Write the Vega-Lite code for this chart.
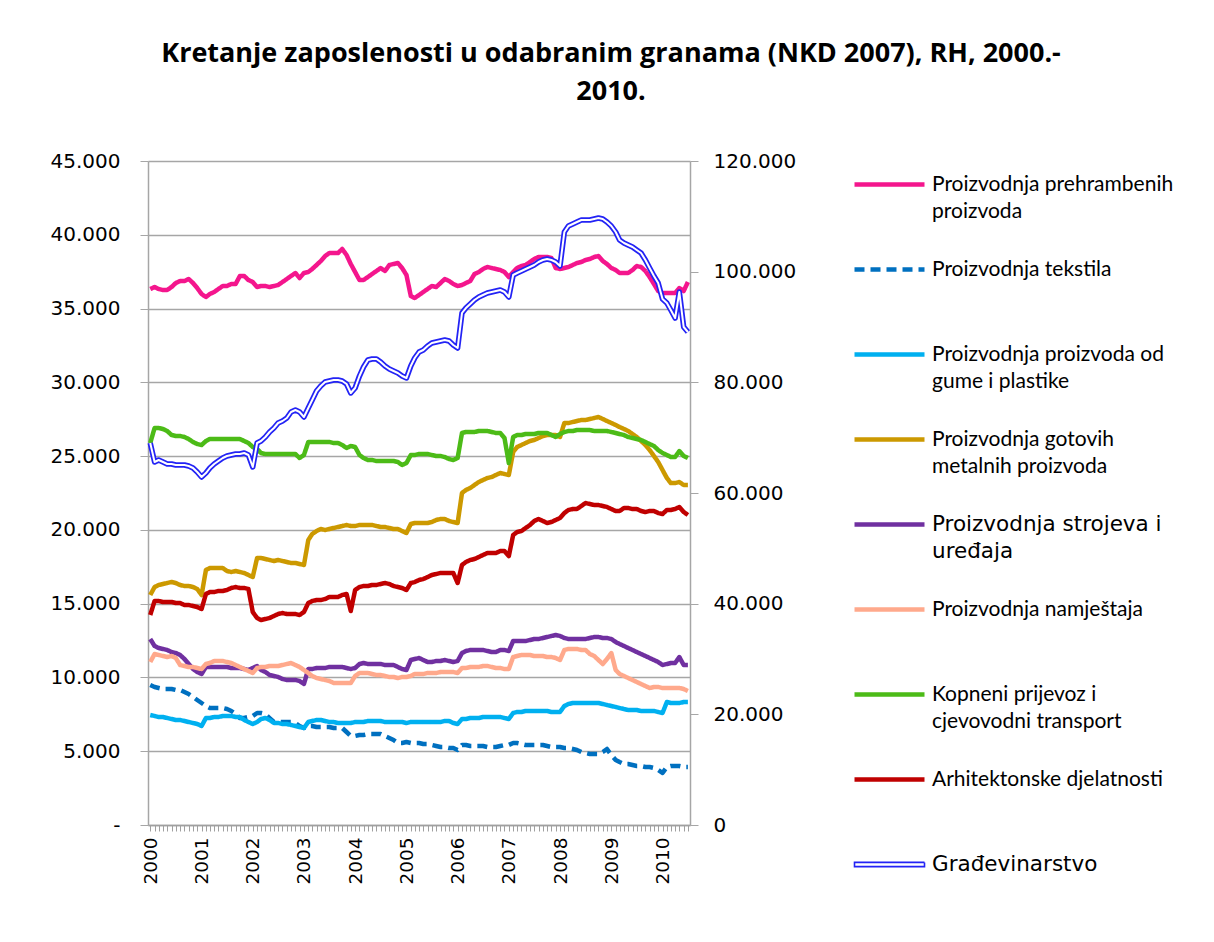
{
  "$schema": "https://vega.github.io/schema/vega-lite/v6.json",
  "width": 542,
  "height": 664,
  "autosize": {"type": "none"},
  "padding": {"left": 148, "top": 161, "right": 524, "bottom": 117},
  "background": "white",
  "title": {
    "text": ["Kretanje zaposlenosti u odabranim  granama (NKD 2007), RH, 2000.-", "2010."],
    "anchor": "middle",
    "frame": "group",
    "dx": 192,
    "offset": 45,
    "font": "Open Sans",
    "fontSize": 27,
    "fontWeight": "bold",
    "lineHeight": 38,
    "color": "black"
  },
  "data": {
    "values": [
      {"d":"2000-01","hrana":36325,"tekstil":9488,"guma":7455,"metal":15587,"strojevi":12605,"namjestaj":11047,"prijevoz":25888,"arhitekt":14232,"gradj":69035},
      {"d":"2000-02","hrana":36460,"tekstil":9352,"guma":7387,"metal":16129,"strojevi":12131,"namjestaj":11589,"prijevoz":26905,"arhitekt":15180,"gradj":65601},
      {"d":"2000-03","hrana":36325,"tekstil":9285,"guma":7319,"metal":16265,"strojevi":11995,"namjestaj":11521,"prijevoz":26905,"arhitekt":15180,"gradj":65963},
      {"d":"2000-04","hrana":36257,"tekstil":9217,"guma":7319,"metal":16333,"strojevi":11928,"namjestaj":11453,"prijevoz":26837,"arhitekt":15113,"gradj":65601},
      {"d":"2000-05","hrana":36257,"tekstil":9217,"guma":7251,"metal":16400,"strojevi":11860,"namjestaj":11385,"prijevoz":26701,"arhitekt":15113,"gradj":65240},
      {"d":"2000-06","hrana":36460,"tekstil":9217,"guma":7184,"metal":16468,"strojevi":11724,"namjestaj":11453,"prijevoz":26430,"arhitekt":15113,"gradj":65240},
      {"d":"2000-07","hrana":36731,"tekstil":9149,"guma":7116,"metal":16400,"strojevi":11656,"namjestaj":11318,"prijevoz":26363,"arhitekt":15045,"gradj":65059},
      {"d":"2000-08","hrana":36867,"tekstil":9149,"guma":7116,"metal":16265,"strojevi":11521,"namjestaj":10843,"prijevoz":26363,"arhitekt":15045,"gradj":65059},
      {"d":"2000-09","hrana":36867,"tekstil":9013,"guma":7048,"metal":16197,"strojevi":11250,"namjestaj":10775,"prijevoz":26295,"arhitekt":14909,"gradj":65059},
      {"d":"2000-10","hrana":37002,"tekstil":8878,"guma":6980,"metal":16197,"strojevi":10911,"namjestaj":10708,"prijevoz":26159,"arhitekt":14909,"gradj":64878},
      {"d":"2000-11","hrana":36731,"tekstil":8675,"guma":6913,"metal":16129,"strojevi":10572,"namjestaj":10708,"prijevoz":25956,"arhitekt":14842,"gradj":64517},
      {"d":"2000-12","hrana":36392,"tekstil":8471,"guma":6845,"metal":15994,"strojevi":10369,"namjestaj":10640,"prijevoz":25820,"arhitekt":14774,"gradj":63794},
      {"d":"2001-01","hrana":35986,"tekstil":8268,"guma":6709,"metal":15587,"strojevi":10233,"namjestaj":10572,"prijevoz":25753,"arhitekt":14638,"gradj":62891},
      {"d":"2001-02","hrana":35783,"tekstil":8065,"guma":7251,"metal":17281,"strojevi":10708,"namjestaj":10911,"prijevoz":26024,"arhitekt":15655,"gradj":63613},
      {"d":"2001-03","hrana":35986,"tekstil":7929,"guma":7251,"metal":17417,"strojevi":10708,"namjestaj":10979,"prijevoz":26159,"arhitekt":15790,"gradj":64517},
      {"d":"2001-04","hrana":36121,"tekstil":7929,"guma":7319,"metal":17417,"strojevi":10708,"namjestaj":11114,"prijevoz":26159,"arhitekt":15790,"gradj":65240},
      {"d":"2001-05","hrana":36325,"tekstil":7929,"guma":7319,"metal":17417,"strojevi":10708,"namjestaj":11114,"prijevoz":26159,"arhitekt":15858,"gradj":65782},
      {"d":"2001-06","hrana":36528,"tekstil":7929,"guma":7387,"metal":17417,"strojevi":10708,"namjestaj":11114,"prijevoz":26159,"arhitekt":15858,"gradj":66324},
      {"d":"2001-07","hrana":36528,"tekstil":7861,"guma":7387,"metal":17214,"strojevi":10708,"namjestaj":11047,"prijevoz":26159,"arhitekt":15926,"gradj":66686},
      {"d":"2001-08","hrana":36664,"tekstil":7726,"guma":7387,"metal":17146,"strojevi":10640,"namjestaj":10979,"prijevoz":26159,"arhitekt":16061,"gradj":66866},
      {"d":"2001-09","hrana":36664,"tekstil":7522,"guma":7319,"metal":17214,"strojevi":10640,"namjestaj":10843,"prijevoz":26159,"arhitekt":16129,"gradj":67047},
      {"d":"2001-10","hrana":37206,"tekstil":7251,"guma":7319,"metal":17146,"strojevi":10640,"namjestaj":10708,"prijevoz":26159,"arhitekt":16061,"gradj":67047},
      {"d":"2001-11","hrana":37206,"tekstil":7251,"guma":7116,"metal":17078,"strojevi":10572,"namjestaj":10572,"prijevoz":26024,"arhitekt":16061,"gradj":67228},
      {"d":"2001-12","hrana":36935,"tekstil":7319,"guma":6980,"metal":16943,"strojevi":10504,"namjestaj":10437,"prijevoz":25888,"arhitekt":15994,"gradj":66866},
      {"d":"2002-01","hrana":36799,"tekstil":7387,"guma":6845,"metal":16807,"strojevi":10640,"namjestaj":10301,"prijevoz":25617,"arhitekt":14435,"gradj":64698},
      {"d":"2002-02","hrana":36460,"tekstil":7590,"guma":6980,"metal":18095,"strojevi":10775,"namjestaj":10640,"prijevoz":25482,"arhitekt":14028,"gradj":69035},
      {"d":"2002-03","hrana":36528,"tekstil":7590,"guma":7184,"metal":18095,"strojevi":10504,"namjestaj":10708,"prijevoz":25210,"arhitekt":13893,"gradj":69396},
      {"d":"2002-04","hrana":36528,"tekstil":7522,"guma":7251,"metal":18027,"strojevi":10369,"namjestaj":10708,"prijevoz":25143,"arhitekt":13961,"gradj":70119},
      {"d":"2002-05","hrana":36460,"tekstil":7251,"guma":7116,"metal":17959,"strojevi":10166,"namjestaj":10775,"prijevoz":25143,"arhitekt":14028,"gradj":71023},
      {"d":"2002-06","hrana":36528,"tekstil":6980,"guma":6913,"metal":17891,"strojevi":10098,"namjestaj":10775,"prijevoz":25143,"arhitekt":14164,"gradj":71746},
      {"d":"2002-07","hrana":36596,"tekstil":6980,"guma":6913,"metal":17959,"strojevi":10030,"namjestaj":10775,"prijevoz":25143,"arhitekt":14299,"gradj":72649},
      {"d":"2002-08","hrana":36799,"tekstil":6980,"guma":6845,"metal":17891,"strojevi":9894,"namjestaj":10843,"prijevoz":25143,"arhitekt":14367,"gradj":73011},
      {"d":"2002-09","hrana":37002,"tekstil":6980,"guma":6845,"metal":17824,"strojevi":9827,"namjestaj":10911,"prijevoz":25143,"arhitekt":14299,"gradj":73553},
      {"d":"2002-10","hrana":37206,"tekstil":6980,"guma":6777,"metal":17756,"strojevi":9827,"namjestaj":10979,"prijevoz":25143,"arhitekt":14299,"gradj":74637},
      {"d":"2002-11","hrana":37409,"tekstil":6913,"guma":6709,"metal":17756,"strojevi":9827,"namjestaj":10843,"prijevoz":25143,"arhitekt":14299,"gradj":74999},
      {"d":"2002-12","hrana":37070,"tekstil":6709,"guma":6641,"metal":17688,"strojevi":9759,"namjestaj":10708,"prijevoz":24872,"arhitekt":14232,"gradj":74637},
      {"d":"2003-01","hrana":37409,"tekstil":6574,"guma":6574,"metal":17620,"strojevi":9556,"namjestaj":10504,"prijevoz":25075,"arhitekt":14435,"gradj":73734},
      {"d":"2003-02","hrana":37477,"tekstil":6709,"guma":6980,"metal":19314,"strojevi":10572,"namjestaj":10301,"prijevoz":25956,"arhitekt":15045,"gradj":75360},
      {"d":"2003-03","hrana":37680,"tekstil":6709,"guma":7048,"metal":19721,"strojevi":10572,"namjestaj":10098,"prijevoz":25956,"arhitekt":15180,"gradj":76806},
      {"d":"2003-04","hrana":37951,"tekstil":6641,"guma":7116,"metal":19924,"strojevi":10640,"namjestaj":9962,"prijevoz":25956,"arhitekt":15248,"gradj":78432},
      {"d":"2003-05","hrana":38222,"tekstil":6641,"guma":7116,"metal":20060,"strojevi":10640,"namjestaj":9894,"prijevoz":25956,"arhitekt":15248,"gradj":79336},
      {"d":"2003-06","hrana":38561,"tekstil":6641,"guma":7048,"metal":19992,"strojevi":10640,"namjestaj":9827,"prijevoz":25956,"arhitekt":15316,"gradj":80059},
      {"d":"2003-07","hrana":38764,"tekstil":6641,"guma":6980,"metal":20060,"strojevi":10708,"namjestaj":9759,"prijevoz":25956,"arhitekt":15452,"gradj":80240},
      {"d":"2003-08","hrana":38764,"tekstil":6574,"guma":6980,"metal":20128,"strojevi":10708,"namjestaj":9623,"prijevoz":25888,"arhitekt":15452,"gradj":80420},
      {"d":"2003-09","hrana":38764,"tekstil":6574,"guma":6913,"metal":20195,"strojevi":10708,"namjestaj":9623,"prijevoz":25888,"arhitekt":15452,"gradj":80420},
      {"d":"2003-10","hrana":39036,"tekstil":6574,"guma":6913,"metal":20263,"strojevi":10708,"namjestaj":9623,"prijevoz":25753,"arhitekt":15587,"gradj":80240},
      {"d":"2003-11","hrana":38629,"tekstil":6303,"guma":6913,"metal":20331,"strojevi":10640,"namjestaj":9623,"prijevoz":25549,"arhitekt":15655,"gradj":79698},
      {"d":"2003-12","hrana":38019,"tekstil":6032,"guma":6913,"metal":20263,"strojevi":10572,"namjestaj":9623,"prijevoz":25685,"arhitekt":14503,"gradj":78071},
      {"d":"2004-01","hrana":37477,"tekstil":6032,"guma":6980,"metal":20263,"strojevi":10640,"namjestaj":10098,"prijevoz":25617,"arhitekt":15926,"gradj":78975},
      {"d":"2004-02","hrana":36935,"tekstil":6099,"guma":6980,"metal":20331,"strojevi":10911,"namjestaj":10301,"prijevoz":25075,"arhitekt":16129,"gradj":81143},
      {"d":"2004-03","hrana":36935,"tekstil":6099,"guma":6980,"metal":20331,"strojevi":10979,"namjestaj":10301,"prijevoz":24872,"arhitekt":16197,"gradj":82770},
      {"d":"2004-04","hrana":37138,"tekstil":6167,"guma":7048,"metal":20331,"strojevi":10911,"namjestaj":10301,"prijevoz":24736,"arhitekt":16197,"gradj":84035},
      {"d":"2004-05","hrana":37341,"tekstil":6167,"guma":7048,"metal":20331,"strojevi":10911,"namjestaj":10233,"prijevoz":24736,"arhitekt":16265,"gradj":84216},
      {"d":"2004-06","hrana":37545,"tekstil":6167,"guma":7048,"metal":20263,"strojevi":10911,"namjestaj":10166,"prijevoz":24668,"arhitekt":16265,"gradj":84216},
      {"d":"2004-07","hrana":37748,"tekstil":6167,"guma":7048,"metal":20195,"strojevi":10911,"namjestaj":10166,"prijevoz":24668,"arhitekt":16333,"gradj":83673},
      {"d":"2004-08","hrana":37545,"tekstil":6032,"guma":6980,"metal":20195,"strojevi":10843,"namjestaj":10098,"prijevoz":24668,"arhitekt":16400,"gradj":82950},
      {"d":"2004-09","hrana":37951,"tekstil":5896,"guma":6980,"metal":20128,"strojevi":10843,"namjestaj":10030,"prijevoz":24668,"arhitekt":16333,"gradj":82408},
      {"d":"2004-10","hrana":38019,"tekstil":5760,"guma":6980,"metal":20060,"strojevi":10843,"namjestaj":10030,"prijevoz":24668,"arhitekt":16197,"gradj":82047},
      {"d":"2004-11","hrana":38087,"tekstil":5557,"guma":6980,"metal":20060,"strojevi":10708,"namjestaj":9962,"prijevoz":24601,"arhitekt":16129,"gradj":81685},
      {"d":"2004-12","hrana":37748,"tekstil":5557,"guma":6980,"metal":19924,"strojevi":10572,"namjestaj":10030,"prijevoz":24397,"arhitekt":16061,"gradj":81143},
      {"d":"2005-01","hrana":37274,"tekstil":5625,"guma":6913,"metal":19789,"strojevi":10504,"namjestaj":10030,"prijevoz":24533,"arhitekt":15926,"gradj":80782},
      {"d":"2005-02","hrana":35850,"tekstil":5557,"guma":6980,"metal":20399,"strojevi":11182,"namjestaj":10098,"prijevoz":25075,"arhitekt":16400,"gradj":82950},
      {"d":"2005-03","hrana":35715,"tekstil":5557,"guma":6980,"metal":20467,"strojevi":11250,"namjestaj":10233,"prijevoz":25075,"arhitekt":16468,"gradj":84396},
      {"d":"2005-04","hrana":35918,"tekstil":5557,"guma":6980,"metal":20467,"strojevi":11318,"namjestaj":10233,"prijevoz":25143,"arhitekt":16604,"gradj":85481},
      {"d":"2005-05","hrana":36121,"tekstil":5489,"guma":6980,"metal":20467,"strojevi":11182,"namjestaj":10233,"prijevoz":25143,"arhitekt":16671,"gradj":85842},
      {"d":"2005-06","hrana":36325,"tekstil":5489,"guma":6980,"metal":20467,"strojevi":11047,"namjestaj":10301,"prijevoz":25143,"arhitekt":16807,"gradj":86565},
      {"d":"2005-07","hrana":36528,"tekstil":5422,"guma":6980,"metal":20534,"strojevi":11047,"namjestaj":10301,"prijevoz":25075,"arhitekt":16943,"gradj":87107},
      {"d":"2005-08","hrana":36460,"tekstil":5354,"guma":6980,"metal":20670,"strojevi":11114,"namjestaj":10301,"prijevoz":25007,"arhitekt":17010,"gradj":87288},
      {"d":"2005-09","hrana":36731,"tekstil":5286,"guma":6980,"metal":20738,"strojevi":11114,"namjestaj":10369,"prijevoz":25007,"arhitekt":17078,"gradj":87468},
      {"d":"2005-10","hrana":37002,"tekstil":5286,"guma":7048,"metal":20738,"strojevi":11182,"namjestaj":10369,"prijevoz":24939,"arhitekt":17078,"gradj":87649},
      {"d":"2005-11","hrana":36867,"tekstil":5218,"guma":7048,"metal":20602,"strojevi":11114,"namjestaj":10369,"prijevoz":24804,"arhitekt":17078,"gradj":87468},
      {"d":"2005-12","hrana":36664,"tekstil":5218,"guma":6913,"metal":20534,"strojevi":11047,"namjestaj":10369,"prijevoz":24736,"arhitekt":17078,"gradj":86746},
      {"d":"2006-01","hrana":36528,"tekstil":5083,"guma":6845,"metal":20467,"strojevi":11114,"namjestaj":10301,"prijevoz":24872,"arhitekt":16400,"gradj":86203},
      {"d":"2006-02","hrana":36596,"tekstil":5422,"guma":7184,"metal":22500,"strojevi":11656,"namjestaj":10640,"prijevoz":26566,"arhitekt":17620,"gradj":92529},
      {"d":"2006-03","hrana":36731,"tekstil":5422,"guma":7184,"metal":22703,"strojevi":11792,"namjestaj":10640,"prijevoz":26634,"arhitekt":17824,"gradj":93432},
      {"d":"2006-04","hrana":36867,"tekstil":5354,"guma":7251,"metal":22838,"strojevi":11860,"namjestaj":10708,"prijevoz":26634,"arhitekt":17959,"gradj":94155},
      {"d":"2006-05","hrana":37341,"tekstil":5354,"guma":7251,"metal":23042,"strojevi":11860,"namjestaj":10708,"prijevoz":26634,"arhitekt":18027,"gradj":94878},
      {"d":"2006-06","hrana":37477,"tekstil":5354,"guma":7251,"metal":23245,"strojevi":11860,"namjestaj":10708,"prijevoz":26701,"arhitekt":18162,"gradj":95420},
      {"d":"2006-07","hrana":37680,"tekstil":5354,"guma":7319,"metal":23381,"strojevi":11860,"namjestaj":10775,"prijevoz":26701,"arhitekt":18298,"gradj":95782},
      {"d":"2006-08","hrana":37816,"tekstil":5286,"guma":7319,"metal":23516,"strojevi":11792,"namjestaj":10775,"prijevoz":26701,"arhitekt":18433,"gradj":96143},
      {"d":"2006-09","hrana":37748,"tekstil":5286,"guma":7319,"metal":23584,"strojevi":11724,"namjestaj":10708,"prijevoz":26634,"arhitekt":18433,"gradj":96324},
      {"d":"2006-10","hrana":37680,"tekstil":5286,"guma":7319,"metal":23720,"strojevi":11724,"namjestaj":10640,"prijevoz":26566,"arhitekt":18433,"gradj":96504},
      {"d":"2006-11","hrana":37612,"tekstil":5354,"guma":7319,"metal":23855,"strojevi":11860,"namjestaj":10640,"prijevoz":26566,"arhitekt":18569,"gradj":96685},
      {"d":"2006-12","hrana":37477,"tekstil":5422,"guma":7251,"metal":23787,"strojevi":11860,"namjestaj":10572,"prijevoz":26227,"arhitekt":18569,"gradj":96324},
      {"d":"2007-01","hrana":37138,"tekstil":5422,"guma":7184,"metal":23720,"strojevi":11792,"namjestaj":10572,"prijevoz":24533,"arhitekt":18230,"gradj":95420},
      {"d":"2007-02","hrana":37477,"tekstil":5557,"guma":7590,"metal":25278,"strojevi":12470,"namjestaj":11385,"prijevoz":26295,"arhitekt":19653,"gradj":99396},
      {"d":"2007-03","hrana":37748,"tekstil":5557,"guma":7658,"metal":25617,"strojevi":12470,"namjestaj":11453,"prijevoz":26430,"arhitekt":19857,"gradj":99757},
      {"d":"2007-04","hrana":37883,"tekstil":5489,"guma":7658,"metal":25753,"strojevi":12470,"namjestaj":11521,"prijevoz":26430,"arhitekt":19924,"gradj":100119},
      {"d":"2007-05","hrana":37951,"tekstil":5422,"guma":7726,"metal":25888,"strojevi":12470,"namjestaj":11521,"prijevoz":26498,"arhitekt":20128,"gradj":100480},
      {"d":"2007-06","hrana":38155,"tekstil":5422,"guma":7726,"metal":26024,"strojevi":12537,"namjestaj":11521,"prijevoz":26498,"arhitekt":20331,"gradj":100842},
      {"d":"2007-07","hrana":38358,"tekstil":5422,"guma":7726,"metal":26091,"strojevi":12605,"namjestaj":11453,"prijevoz":26498,"arhitekt":20602,"gradj":101203},
      {"d":"2007-08","hrana":38493,"tekstil":5422,"guma":7726,"metal":26227,"strojevi":12605,"namjestaj":11453,"prijevoz":26566,"arhitekt":20738,"gradj":101745},
      {"d":"2007-09","hrana":38493,"tekstil":5422,"guma":7726,"metal":26363,"strojevi":12673,"namjestaj":11453,"prijevoz":26566,"arhitekt":20602,"gradj":102107},
      {"d":"2007-10","hrana":38493,"tekstil":5354,"guma":7726,"metal":26430,"strojevi":12741,"namjestaj":11385,"prijevoz":26566,"arhitekt":20467,"gradj":102288},
      {"d":"2007-11","hrana":38426,"tekstil":5286,"guma":7658,"metal":26430,"strojevi":12809,"namjestaj":11385,"prijevoz":26430,"arhitekt":20534,"gradj":102107},
      {"d":"2007-12","hrana":37748,"tekstil":5286,"guma":7658,"metal":26430,"strojevi":12876,"namjestaj":11318,"prijevoz":26295,"arhitekt":20670,"gradj":101745},
      {"d":"2008-01","hrana":37680,"tekstil":5286,"guma":7658,"metal":26295,"strojevi":12809,"namjestaj":11182,"prijevoz":26498,"arhitekt":20805,"gradj":101022},
      {"d":"2008-02","hrana":37748,"tekstil":5218,"guma":8065,"metal":27244,"strojevi":12673,"namjestaj":11860,"prijevoz":26634,"arhitekt":21144,"gradj":107167},
      {"d":"2008-03","hrana":37816,"tekstil":5218,"guma":8200,"metal":27244,"strojevi":12605,"namjestaj":11928,"prijevoz":26701,"arhitekt":21348,"gradj":108251},
      {"d":"2008-04","hrana":37951,"tekstil":5151,"guma":8268,"metal":27311,"strojevi":12605,"namjestaj":11928,"prijevoz":26701,"arhitekt":21415,"gradj":108613},
      {"d":"2008-05","hrana":38087,"tekstil":5083,"guma":8268,"metal":27379,"strojevi":12605,"namjestaj":11928,"prijevoz":26769,"arhitekt":21415,"gradj":108974},
      {"d":"2008-06","hrana":38155,"tekstil":4947,"guma":8268,"metal":27447,"strojevi":12605,"namjestaj":11860,"prijevoz":26769,"arhitekt":21619,"gradj":109336},
      {"d":"2008-07","hrana":38290,"tekstil":4879,"guma":8268,"metal":27447,"strojevi":12605,"namjestaj":11860,"prijevoz":26769,"arhitekt":21822,"gradj":109336},
      {"d":"2008-08","hrana":38358,"tekstil":4812,"guma":8268,"metal":27515,"strojevi":12673,"namjestaj":11589,"prijevoz":26769,"arhitekt":21754,"gradj":109336},
      {"d":"2008-09","hrana":38493,"tekstil":4812,"guma":8268,"metal":27582,"strojevi":12741,"namjestaj":11453,"prijevoz":26701,"arhitekt":21686,"gradj":109516},
      {"d":"2008-10","hrana":38561,"tekstil":4812,"guma":8268,"metal":27650,"strojevi":12741,"namjestaj":11182,"prijevoz":26701,"arhitekt":21686,"gradj":109697},
      {"d":"2008-11","hrana":38222,"tekstil":4947,"guma":8200,"metal":27515,"strojevi":12673,"namjestaj":10911,"prijevoz":26701,"arhitekt":21619,"gradj":109516},
      {"d":"2008-12","hrana":38019,"tekstil":5151,"guma":8132,"metal":27379,"strojevi":12673,"namjestaj":11250,"prijevoz":26701,"arhitekt":21551,"gradj":108974},
      {"d":"2009-01","hrana":37748,"tekstil":4744,"guma":8065,"metal":27244,"strojevi":12605,"namjestaj":11656,"prijevoz":26634,"arhitekt":21415,"gradj":108251},
      {"d":"2009-02","hrana":37612,"tekstil":4405,"guma":7997,"metal":27108,"strojevi":12402,"namjestaj":10504,"prijevoz":26566,"arhitekt":21280,"gradj":107167},
      {"d":"2009-03","hrana":37409,"tekstil":4270,"guma":7929,"metal":26972,"strojevi":12266,"namjestaj":10233,"prijevoz":26498,"arhitekt":21280,"gradj":105721},
      {"d":"2009-04","hrana":37409,"tekstil":4134,"guma":7861,"metal":26837,"strojevi":12131,"namjestaj":10098,"prijevoz":26430,"arhitekt":21483,"gradj":105179},
      {"d":"2009-05","hrana":37409,"tekstil":4134,"guma":7794,"metal":26701,"strojevi":11995,"namjestaj":9962,"prijevoz":26295,"arhitekt":21483,"gradj":104818},
      {"d":"2009-06","hrana":37612,"tekstil":4066,"guma":7794,"metal":26498,"strojevi":11860,"namjestaj":9827,"prijevoz":26227,"arhitekt":21415,"gradj":104456},
      {"d":"2009-07","hrana":37883,"tekstil":3998,"guma":7794,"metal":26295,"strojevi":11724,"namjestaj":9691,"prijevoz":26159,"arhitekt":21415,"gradj":103914},
      {"d":"2009-08","hrana":37816,"tekstil":3998,"guma":7726,"metal":26024,"strojevi":11589,"namjestaj":9556,"prijevoz":26091,"arhitekt":21280,"gradj":103372},
      {"d":"2009-09","hrana":37545,"tekstil":3931,"guma":7726,"metal":25753,"strojevi":11453,"namjestaj":9420,"prijevoz":25956,"arhitekt":21212,"gradj":102107},
      {"d":"2009-10","hrana":37138,"tekstil":3931,"guma":7726,"metal":25414,"strojevi":11318,"namjestaj":9285,"prijevoz":25820,"arhitekt":21280,"gradj":100661},
      {"d":"2009-11","hrana":36664,"tekstil":3863,"guma":7726,"metal":25007,"strojevi":11182,"namjestaj":9352,"prijevoz":25685,"arhitekt":21280,"gradj":99215},
      {"d":"2009-12","hrana":36189,"tekstil":3727,"guma":7658,"metal":24601,"strojevi":11047,"namjestaj":9352,"prijevoz":25414,"arhitekt":21144,"gradj":97950},
      {"d":"2010-01","hrana":36054,"tekstil":3524,"guma":7590,"metal":24058,"strojevi":10843,"namjestaj":9285,"prijevoz":25210,"arhitekt":21076,"gradj":95059},
      {"d":"2010-02","hrana":36054,"tekstil":3931,"guma":8336,"metal":23516,"strojevi":10911,"namjestaj":9285,"prijevoz":25075,"arhitekt":21348,"gradj":94336},
      {"d":"2010-03","hrana":36054,"tekstil":3998,"guma":8268,"metal":23177,"strojevi":10979,"namjestaj":9285,"prijevoz":24939,"arhitekt":21348,"gradj":93071},
      {"d":"2010-04","hrana":36054,"tekstil":3998,"guma":8268,"metal":23177,"strojevi":10979,"namjestaj":9285,"prijevoz":24939,"arhitekt":21415,"gradj":91625},
      {"d":"2010-05","hrana":36392,"tekstil":3998,"guma":8268,"metal":23245,"strojevi":11385,"namjestaj":9285,"prijevoz":25346,"arhitekt":21551,"gradj":96324},
      {"d":"2010-06","hrana":36189,"tekstil":3931,"guma":8336,"metal":23042,"strojevi":10843,"namjestaj":9217,"prijevoz":25007,"arhitekt":21212,"gradj":89999},
      {"d":"2010-07","hrana":36799,"tekstil":3931,"guma":8336,"metal":23042,"strojevi":10843,"namjestaj":9081,"prijevoz":24872,"arhitekt":21009,"gradj":89095}
    ]
  },
  "encoding": {
    "x": {
      "field": "d",
      "type": "temporal",
      "title": null,
      "scale": {
        "type": "utc",
        "domain": [
          {"year": 1999, "month": 12, "date": 16, "utc": true},
          {"year": 2010, "month": 7, "date": 16, "utc": true}
        ]
      },
      "axis": {
        "tickCount": {"interval": "month", "step": 1},
        "labelExpr": "utcFormat(datum.value, '%m') === '01' ? utcFormat(datum.value, '%Y') : ''",
        "labelAngle": 270,
        "labelOverlap": false,
        "labelFlush": false,
        "labelBound": false,
        "labelFont": "DejaVu Sans",
        "labelFontSize": 18.5,
        "labelColor": "black",
        "labelPadding": 6,
        "tickSize": 6,
        "tickColor": "#a0a0a0",
        "domainColor": "#a0a0a0",
        "domainWidth": 1.5,
        "grid": false
      }
    }
  },
  "layer": [
    {
      "transform": [
        {"fold": ["hrana", "tekstil", "guma", "metal", "strojevi", "namjestaj", "prijevoz", "arhitekt"], "as": ["key", "value"]},
        {
          "lookup": "key",
          "from": {
            "data": {
              "values": [
                {"key": "hrana", "name": "Proizvodnja prehrambenih proizvoda"},
                {"key": "tekstil", "name": "Proizvodnja tekstila"},
                {"key": "guma", "name": "Proizvodnja proizvoda od gume i plastike"},
                {"key": "metal", "name": "Proizvodnja gotovih metalnih proizvoda"},
                {"key": "strojevi", "name": "Proizvodnja strojeva i uređaja"},
                {"key": "namjestaj", "name": "Proizvodnja namještaja"},
                {"key": "prijevoz", "name": "Kopneni prijevoz i cjevovodni transport"},
                {"key": "arhitekt", "name": "Arhitektonske djelatnosti"}
              ]
            },
            "key": "key",
            "fields": ["name"]
          }
        }
      ],
      "mark": {"type": "line", "strokeWidth": 4.5, "strokeJoin": "round"},
      "encoding": {
        "y": {
          "field": "value",
          "type": "quantitative",
          "title": null,
          "scale": {"domain": [0, 45000], "nice": false},
          "axis": {
            "values": [0, 5000, 10000, 15000, 20000, 25000, 30000, 35000, 40000, 45000],
            "labelExpr": "datum.value === 0 ? '-' : format(datum.value / 1000, '.3f')",
            "grid": true,
            "gridColor": "#a6a6a6",
            "gridWidth": 1.5,
            "domainColor": "#a6a6a6",
            "domainWidth": 1.5,
            "tickColor": "#a6a6a6",
            "tickSize": 8,
            "labelPadding": 20,
            "labelFont": "DejaVu Sans",
            "labelFontSize": 20,
            "labelColor": "black"
          }
        },
        "color": {
          "field": "name",
          "type": "nominal",
          "scale": {
            "domain": [
              "Proizvodnja prehrambenih proizvoda",
              "Proizvodnja tekstila",
              "Proizvodnja proizvoda od gume i plastike",
              "Proizvodnja gotovih metalnih proizvoda",
              "Proizvodnja strojeva i uređaja",
              "Proizvodnja namještaja",
              "Kopneni prijevoz i cjevovodni transport",
              "Arhitektonske djelatnosti",
              "Građevinarstvo"
            ],
            "range": ["#F4168D", "#0070C0", "#00B0F0", "#CC9900", "#7030A0", "#FFA98C", "#4CBB17", "#C00000", "#2323F5"]
          },
          "legend": {
            "orient": "none",
            "legendX": 704,
            "legendY": 13,
            "title": null,
            "direction": "vertical",
            "padding": 0,
            "symbolType": "stroke",
            "symbolSize": 4900,
            "symbolStrokeWidth": 4.5,
            "symbolOffset": 27,
            "labelFont": "Lato",
            "labelFontSize": 21,
            "labelLimit": 400,
            "labelOffset": 32,
            "labelColor": "black",
            "labelBaseline": "top",
            "rowPadding": 36,
            "gridAlign": "all",
            "labelExpr": "datum.value === 'Proizvodnja prehrambenih proizvoda' ? ['Proizvodnja prehrambenih', 'proizvoda'] : datum.value === 'Proizvodnja proizvoda od gume i plastike' ? ['Proizvodnja proizvoda od', 'gume i plastike'] : datum.value === 'Proizvodnja gotovih metalnih proizvoda' ? ['Proizvodnja gotovih', 'metalnih proizvoda'] : datum.value === 'Proizvodnja strojeva i uređaja' ? ['Proizvodnja strojeva i', 'uređaja'] : datum.value === 'Kopneni prijevoz i cjevovodni transport' ? ['Kopneni prijevoz i', 'cjevovodni transport'] : datum.label",
            "encode": {
              "symbols": {
                "update": {
                  "strokeDash": {"signal": "datum.value === 'Proizvodnja tekstila' ? [10, 6] : [1, 0]"},
                  "shape": {"signal": "datum.value === 'Građevinarstvo' ? 'M-1,-0.06H1V0.06H-1Z' : 'stroke'"},
                  "strokeWidth": {"signal": "datum.value === 'Građevinarstvo' ? 1.6 : 4.5"},
                  "fill": {"signal": "datum.value === 'Građevinarstvo' ? 'white' : 'transparent'"}
                }
              },
              "labels": {
                "update": {
                  "font": {"signal": "datum.value === 'Građevinarstvo' || datum.value === 'Proizvodnja strojeva i uređaja' ? 'DejaVu Sans' : 'Lato'"},
                  "fontSize": {"signal": "datum.value === 'Građevinarstvo' || datum.value === 'Proizvodnja strojeva i uređaja' ? 21.5 : 21"},
                  "lineHeight": {"value": 27},
                  "dy": {"value": -11}
                }
              }
            }
          }
        },
        "strokeDash": {
          "field": "name",
          "type": "nominal",
          "scale": {
            "domain": [
              "Proizvodnja prehrambenih proizvoda",
              "Proizvodnja tekstila",
              "Proizvodnja proizvoda od gume i plastike",
              "Proizvodnja gotovih metalnih proizvoda",
              "Proizvodnja strojeva i uređaja",
              "Proizvodnja namještaja",
              "Kopneni prijevoz i cjevovodni transport",
              "Arhitektonske djelatnosti"
            ],
            "range": [[1, 0], [10, 6], [1, 0], [1, 0], [1, 0], [1, 0], [1, 0], [1, 0]]
          },
          "legend": null
        }
      }
    },
    {
      "encoding": {
        "y": {
          "field": "gradj",
          "type": "quantitative",
          "title": null,
          "scale": {"domain": [0, 120000], "nice": false},
          "axis": {
            "orient": "right",
            "values": [0, 20000, 40000, 60000, 80000, 100000, 120000],
            "labelExpr": "datum.value === 0 ? '0' : format(datum.value / 1000, '.3f')",
            "grid": false,
            "domainColor": "#a6a6a6",
            "domainWidth": 1.5,
            "tickColor": "#a6a6a6",
            "tickSize": 8,
            "labelPadding": 15,
            "labelFont": "DejaVu Sans",
            "labelFontSize": 20,
            "labelColor": "black"
          }
        }
      },
      "layer": [
        {"mark": {"type": "line", "color": "#2323F5", "strokeWidth": 5.5, "strokeJoin": "round"}, "encoding": {}},
        {"mark": {"type": "line", "color": "white", "strokeWidth": 2, "strokeJoin": "round"}, "encoding": {}}
      ]
    }
  ],
  "resolve": {"scale": {"y": "independent"}},
  "config": {
    "view": {"stroke": null},
    "font": "DejaVu Sans"
  }
}
